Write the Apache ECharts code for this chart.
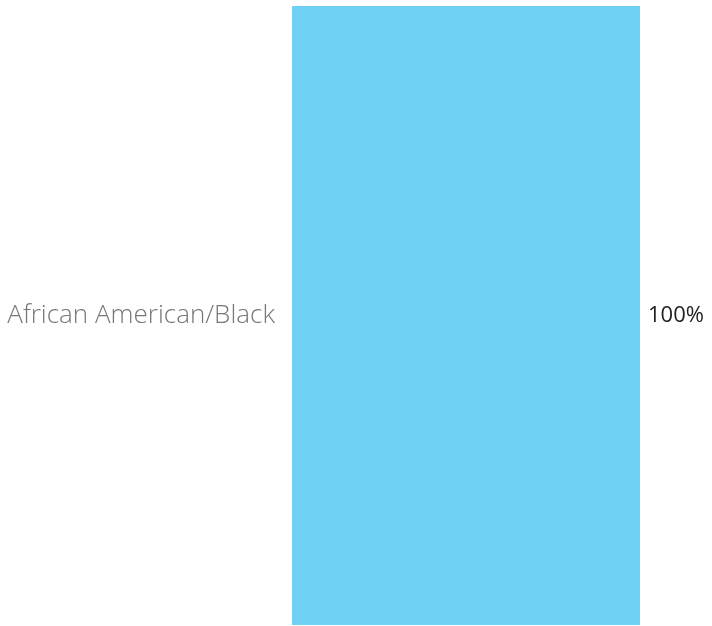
<!DOCTYPE html>
<html>
<head>
<meta charset="utf-8">
<script src="https://cdn.jsdelivr.net/npm/echarts@6/dist/echarts.min.js"></script>
<style>
  html, body { margin: 0; padding: 0; background: #fff; }
  #main { width: 712px; height: 626px; }
</style>
</head>
<body>
<div id="main"></div>
<script>
// 数据
var categories = ['African American/Black'];
var shares = [1.0];

var chart = echarts.init(document.getElementById('main'));

chart.setOption({
    animation: false,
    grid: { left: 292, right: 72, top: 6, bottom: 1, containLabel: false },
    xAxis: {
        type: 'value',
        min: 0,
        max: 1,
        show: false
    },
    yAxis: {
        type: 'category',
        data: categories,
        axisLine: { show: false },
        axisTick: { show: false },
        axisLabel: {
            margin: 17,
            color: '#777777',
            fontSize: 26,
            fontFamily: 'Open Sans',
            fontWeight: 300
        }
    },
    series: [{
        type: 'bar',
        data: shares,
        barCategoryGap: 0,
        barWidth: '100%',
        itemStyle: { color: '#6fd1f6' },
        label: {
            show: true,
            position: 'right',
            distance: 8,
            color: '#222',
            fontSize: 22,
            fontFamily: 'Open Sans',
            formatter: function (p) { return Math.round(p.value * 100) + '%'; }
        }
    }]
});
</script>
</body>
</html>
